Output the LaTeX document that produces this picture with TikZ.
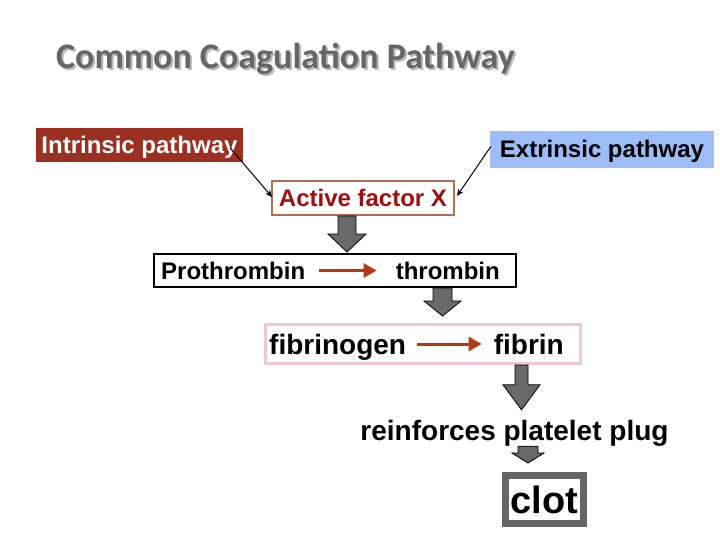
\documentclass[tikz,border=0pt]{standalone}
\usepackage{fontspec}
\setmainfont{Liberation Sans}
\newfontfamily\titlefont{Carlito}
\usetikzlibrary{arrows.meta,positioning,calc}
\definecolor{intred}{HTML}{9B2F22}
\definecolor{extblue}{HTML}{9DBDF8}
\definecolor{actbrown}{HTML}{B0704F}
\definecolor{acttext}{HTML}{A00F0F}
\definecolor{convred}{HTML}{B03A12}
\definecolor{fibpink}{HTML}{F0C8D2}
\definecolor{blkgray}{HTML}{696969}
\definecolor{clotgray}{HTML}{666666}

\begin{document}
\begin{tikzpicture}[x=1pt,y=-1pt,
  every node/.style={inner sep=0pt, font=\bfseries\fontsize{24}{28}\selectfont,
    text height=17pt, text depth=0pt},
  big/.style={font=\bfseries\fontsize{28}{32}\selectfont, text height=20pt},
  convarr/.style={draw=convred, line width=3pt, -{Triangle[length=13pt,width=14pt]}},
  feedarr/.style={line width=1pt, -{Stealth[length=7pt,width=6pt]}},
  blk/.style={fill=blkgray, draw=black, line width=0.8pt, line join=miter}]
  \fill[white] (0,0) rectangle (720,540);
  \useasboundingbox (0,0) rectangle (720,540);

  % title
  \node[anchor=base west, text=black!28, font=\titlefont\bfseries\fontsize{36}{40}\selectfont, text height=]
    at (58,71) {Common Coagulation Pathway};
  \node[anchor=base west, text=black!60, font=\titlefont\bfseries\fontsize{36}{40}\selectfont, text height=]
    (title) at (56,69) {Common Coagulation Pathway};

  % the two pathways and factor X
  \node[fill=intred, text=white, minimum width=207pt, minimum height=34pt] (intr) at (139.5,145) {Intrinsic pathway};
  \node[fill=extblue, minimum width=224pt, minimum height=37pt] (extr) at (602,149.5) {Extrinsic pathway};
  \node[draw=actbrown, line width=2pt, fill=white, text=acttext, minimum width=182pt, minimum height=34pt] (act) at (363,198) {Active factor X};
  \draw[feedarr] ($(intr.east)+(-13,3)$) -- ($(act.west)+(1,-1)$);
  \draw[feedarr] ($(extr.west)+(1,-3)$) -- ($(act.east)+(2,-2)$);

  % prothrombin -> thrombin
  \node[draw, line width=2pt, minimum width=362pt, minimum height=33pt] (pbox) at (335,270.5) {};
  \node[anchor=west] (pro) at ([xshift=8pt]pbox.west) {Prothrombin};
  \node[anchor=east] (thr) at ([xshift=-17pt]pbox.east) {thrombin};
  \draw[convarr, shorten <=14pt, shorten >=19pt] (pro) -- (thr);

  % fibrinogen -> fibrin
  \node[draw=fibpink, line width=3pt, minimum width=315pt, minimum height=39pt] (fbox) at (423,344) {};
  \node[big, anchor=west] (fib) at ([xshift=5pt]fbox.west) {fibrinogen};
  \node[big, anchor=east] (fin) at ([xshift=-18pt]fbox.east) {fibrin};
  \draw[convarr, shorten <=11pt, shorten >=12pt] (fib) -- (fin);

  \node[big] (plug) at (514.5,430) {reinforces platelet plug};
  \node[draw=clotgray, line width=7pt, font=\bfseries\fontsize{38}{42}\selectfont, text height=27pt,
    minimum width=78pt, minimum height=48pt] (clot) at (544.5,499.5) {clot};

  % block arrows
  \coordinate (s1) at ([xshift=-16pt]act.south);
  \coordinate (e1) at ($(s1 |- pbox.north)+(0,-1)$);
  \coordinate (s2) at ($(pbox.south)+(107.5,0)$);
  \coordinate (e2) at ($(s2 |- fbox.north)+(0,-7)$);
  \coordinate (s3) at ($(fbox.south)+(98.5,0)$);
  \coordinate (e3) at ($(s3 |- plug.north)+(0,-10)$);
  \coordinate (s4) at ($(plug.south)+(13.5,6)$);
  \coordinate (e4) at ($(s4 |- clot.north)+(0,-9)$);
  \foreach \a/\b/\s/\h/\l in {s1/e1/9/19/18, s2/e2/9.5/18.5/15, s3/e3/6.5/18.5/25, s4/e4/10/16/10} {
    \filldraw[blk] let \p1=(\a), \p2=(\b) in
      (\x1-\s pt,\y1) -- (\x1+\s pt,\y1) -- (\x1+\s pt,\y2+\l pt) -- (\x1+\h pt,\y2+\l pt)
      -- (\x1,\y2) -- (\x1-\h pt,\y2+\l pt) -- (\x1-\s pt,\y2+\l pt) -- cycle;
  }
\end{tikzpicture}
\end{document}
